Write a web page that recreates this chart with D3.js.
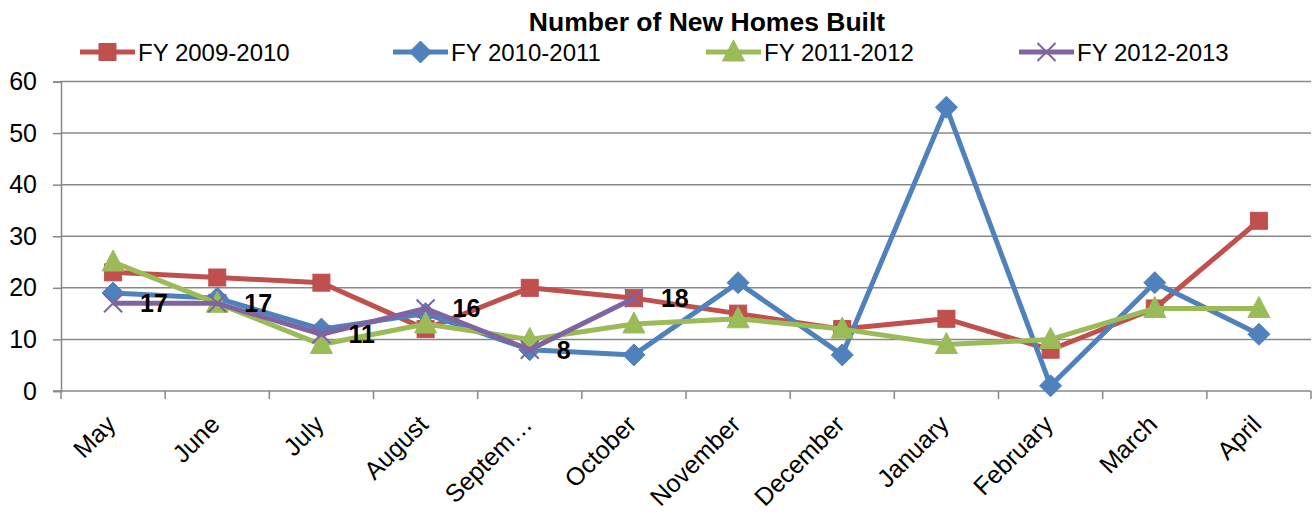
<!DOCTYPE html>
<html>
<head>
<meta charset="utf-8">
<script src="https://cdn.jsdelivr.net/npm/d3@7"></script>
<style>
  html, body { margin: 0; padding: 0; background: #fff; }
  svg { display: block; font-family: "Liberation Sans", Arial, sans-serif; }
</style>
</head>
<body>
<svg id="chart" width="1312" height="515"></svg>
<script>
const months = ["May","June","July","August","September","October","November","December","January","February","March","April"];
const monthLabels = ["May","June","July","August","Septem…","October","November","December","January","February","March","April"];
const yTicks = [0,10,20,30,40,50,60];
const seriesNames = ["FY 2009-2010","FY 2010-2011","FY 2011-2012","FY 2012-2013"];
const fy0910 = [23,22,21,12,20,18,15,12,14,8,16,33];
const fy1011 = [19,18,12,15,8,7,21,7,55,1,21,11];
const fy1112 = [25,17,9,13,10,13,14,12,9,10,16,16];
const fy1213 = [17,17,11,16,8,18];
const colors = ["#C0504D","#4F81BD","#9BBB59","#8064A2"];
const markers = ["square","diamond","triangle","x"];
const title = "Number of New Homes Built";

const series = [fy0910, fy1011, fy1112, fy1213].map((vals, i) => ({
  name: seriesNames[i], color: colors[i], marker: markers[i],
  points: vals.map((v, j) => ({ m: months[j], v }))
}));

const svg = d3.select("#chart");
const L = 61, R = 1311, T = 81.5, B = 391;
const x = d3.scaleBand().domain(months).range([L, R]);
const y = d3.scaleLinear().domain([0, 60]).range([B, T]);
const cx = m => x(m) + x.bandwidth() / 2;
const gridColor = "#888888";

// gridlines
svg.append("g").selectAll("line").data(yTicks.filter(t => t > 0)).join("line")
  .attr("x1", L).attr("x2", R).attr("y1", d => y(d)).attr("y2", d => y(d))
  .attr("stroke", gridColor).attr("stroke-width", 1.5);

// y axis
const yAxis = svg.append("g").attr("transform", `translate(${L},0)`)
  .call(d3.axisLeft(y).tickValues(yTicks).tickSize(8).tickPadding(16));
yAxis.selectAll("path, line").attr("stroke", gridColor).attr("stroke-width", 1.5);
yAxis.selectAll("text").attr("font-size", 25).attr("fill", "#000")
  .attr("font-family", "Liberation Sans, Arial, sans-serif");

// x axis line + ticks
svg.append("line").attr("x1", L - 8).attr("x2", R).attr("y1", B).attr("y2", B)
  .attr("stroke", gridColor).attr("stroke-width", 1.5);
svg.append("g").selectAll("line").data(months.map(m => x(m)).concat([R])).join("line")
  .attr("x1", d => d).attr("x2", d => d).attr("y1", B).attr("y2", B + 8)
  .attr("stroke", gridColor).attr("stroke-width", 1.5);

// x labels
svg.append("g").selectAll("text").data(months).join("text")
  .attr("transform", d => `translate(${cx(d) + 4},${B + 35}) rotate(-45)`)
  .attr("text-anchor", "end")
  .attr("font-size", 25).attr("fill", "#000")
  .text((d, i) => monthLabels[i]);

// marker drawer
function drawMarker(g, type, color, px, py) {
  if (type === "square") {
    g.append("rect").attr("x", px - 8.5).attr("y", py - 8.5).attr("width", 17).attr("height", 17)
      .attr("fill", color).attr("stroke", color).attr("stroke-width", 1);
  } else if (type === "diamond") {
    const s = 11;
    g.append("path").attr("d", `M${px},${py - s}L${px + s},${py}L${px},${py + s}L${px - s},${py}Z`)
      .attr("fill", color).attr("stroke", color).attr("stroke-width", 1);
  } else if (type === "triangle") {
    g.append("path").attr("d", `M${px},${py - 12}L${px + 11},${py + 9}L${px - 11},${py + 9}Z`)
      .attr("fill", color).attr("stroke", color).attr("stroke-width", 1);
  } else if (type === "x") {
    const s = 9;
    g.append("path").attr("d", `M${px - s},${py - s}L${px + s},${py + s}M${px - s},${py + s}L${px + s},${py - s}`)
      .attr("stroke", color).attr("stroke-width", 2).attr("fill", "none");
  }
}

const line = d3.line().x(d => cx(d.m)).y(d => y(d.v));

series.forEach(s => {
  const g = svg.append("g");
  g.append("path").datum(s.points).attr("d", line)
    .attr("fill", "none").attr("stroke", s.color).attr("stroke-width", 5)
    .attr("stroke-linejoin", "round");
  s.points.forEach(p => drawMarker(g, s.marker, s.color, cx(p.m), y(p.v)));
});

// data labels for FY 2012-2013
svg.append("g").selectAll("text").data(series[3].points).join("text")
  .attr("x", d => cx(d.m) + 27).attr("y", d => y(d.v))
  .attr("dy", "0.36em").attr("font-size", 25).attr("font-weight", "bold").attr("fill", "#000")
  .text(d => d.v);

// title
svg.append("text").attr("x", 707).attr("y", 31).attr("text-anchor", "middle")
  .attr("font-size", 26.5).attr("font-weight", "bold").attr("fill", "#000").text(title);

// legend
const legX = [80, 393, 706, 1019];
const legY = 52;
series.forEach((s, i) => {
  const g = svg.append("g");
  g.append("line").attr("x1", legX[i]).attr("x2", legX[i] + 55).attr("y1", legY).attr("y2", legY)
    .attr("stroke", s.color).attr("stroke-width", 5);
  drawMarker(g, s.marker, s.color, legX[i] + 27.5, legY);
  g.append("text").attr("x", legX[i] + 58).attr("y", legY).attr("dy", "0.36em")
    .attr("font-size", 24).attr("fill", "#000").text(s.name);
});
</script>
</body>
</html>
